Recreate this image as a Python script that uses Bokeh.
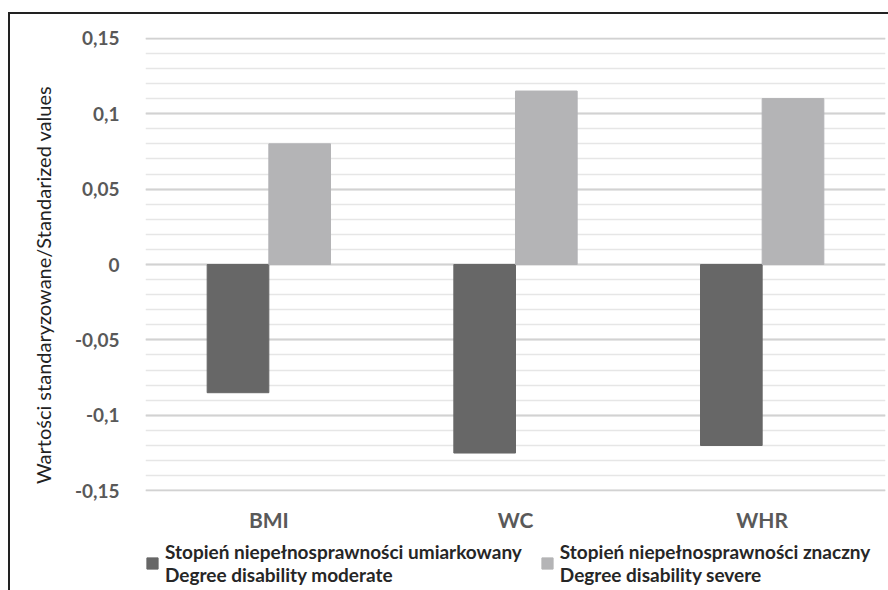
from bokeh.plotting import figure
from bokeh.layouts import column
from bokeh.models import (ColumnDataSource, FactorRange, Range1d, FixedTicker,
                          CustomJSTickFormatter, Legend, LegendItem)
from bokeh.transform import dodge
from bokeh.embed import file_html
from bokeh.resources import INLINE

# Standardized values of body measures by degree of disability
categories = ["BMI", "WC", "WHR"]
moderate = [-0.085, -0.125, -0.12]
severe = [0.08, 0.115, 0.11]
series_labels = [
    "Stopień niepełnosprawności umiarkowany\nDegree disability moderate",
    "Stopień niepełnosprawności znaczny\nDegree disability severe",
]
y_title = "Wartości standaryzowane/Standarized values"
y_ticks = [-0.15, -0.1, -0.05, 0, 0.05, 0.1, 0.15]
y_minor_ticks = [round(-0.15 + 0.01 * i, 2) for i in range(31)]

DARK = "#676767"
LIGHT = "#b4b4b6"
FONT = "Lato"
W = 878

source = ColumnDataSource(dict(cat=categories, moderate=moderate, severe=severe))


def add_bars(fig):
    r_mod = fig.vbar(x=dodge("cat", -0.125, range=fig.x_range), top="moderate",
                     width=0.25, source=source, fill_color=DARK, line_color=DARK)
    r_sev = fig.vbar(x=dodge("cat", 0.125, range=fig.x_range), top="severe",
                     width=0.25, source=source, fill_color=LIGHT, line_color=LIGHT)
    return r_mod, r_sev


# ---- main chart ----
p = figure(
    x_range=FactorRange(*categories, range_padding=0),
    y_range=Range1d(-0.1505, 0.1505),
    width=W, height=526,
    output_backend="svg", toolbar_location=None,
    min_border_left=135, min_border_right=3,
    min_border_top=23, min_border_bottom=49,
)
p.outline_line_color = None
p.background_fill_color = "white"
p.border_fill_color = "white"
add_bars(p)

# y axis: comma decimal labels, no line or ticks
p.yaxis.ticker = FixedTicker(ticks=y_ticks, minor_ticks=y_minor_ticks)
p.yaxis.formatter = CustomJSTickFormatter(code="""
    let s = tick.toFixed(2).replace(/0+$/, '').replace(/\\.$/, '');
    if (s === '-0') s = '0';
    return s.replace('.', ',');
""")
p.yaxis.axis_line_color = None
p.yaxis.major_tick_line_color = None
p.yaxis.minor_tick_line_color = None
p.yaxis.major_label_standoff = 20
p.yaxis.major_label_text_font = FONT
p.yaxis.major_label_text_font_style = "bold"
p.yaxis.major_label_text_font_size = "19px"
p.yaxis.major_label_text_color = "#595959"
p.yaxis.axis_label = y_title + "\u00a0" * 8
p.yaxis.axis_label_standoff = 17
p.yaxis.axis_label_text_font = FONT
p.yaxis.axis_label_text_font_style = "normal"
p.yaxis.axis_label_text_font_size = "20px"
p.yaxis.axis_label_text_color = "#222222"

# x axis: category names only
p.xaxis.axis_line_color = None
p.xaxis.major_tick_line_color = None
p.xaxis.minor_tick_line_color = None
p.xaxis.major_label_standoff = 9
p.xaxis.major_label_text_font = FONT
p.xaxis.major_label_text_font_style = "bold"
p.xaxis.major_label_text_font_size = "21px"
p.xaxis.major_label_text_color = "#595959"

# grid: strong lines every 0.05, faint lines every 0.01
p.xgrid.grid_line_color = None
p.ygrid.grid_line_color = "#d2d2d2"
p.ygrid.grid_line_width = 2
p.ygrid.minor_grid_line_color = "#e6e6e6"
p.ygrid.minor_grid_line_width = 1.5

# ---- legend strip under the chart (bars here fall outside its y range) ----
leg = figure(
    x_range=FactorRange(*categories, range_padding=0),
    y_range=Range1d(1, 2),
    width=W, height=50,
    output_backend="svg", toolbar_location=None,
    x_axis_type=None, y_axis_type=None,
    min_border=0,
)
leg.outline_line_color = None
leg.grid.grid_line_color = None
leg_mod, leg_sev = add_bars(leg)

legend = Legend(
    items=[LegendItem(label=series_labels[0], renderers=[leg_mod]),
           LegendItem(label=series_labels[1], renderers=[leg_sev])],
    orientation="horizontal", location=(0, 4),
    glyph_width=14, glyph_height=14, label_standoff=6, spacing=18,
    padding=0, margin=0, border_line_color=None, background_fill_alpha=0,
    label_text_font=FONT, label_text_font_style="bold",
    label_text_font_size="19px", label_text_color="#262626",
    label_text_line_height=0.65,
)
leg.add_layout(legend, "center")

layout = column(p, leg, spacing=0, margin=(12, 0, 0, 8),
                styles={"border-top": "2px solid #222222",
                        "border-left": "2px solid #222222"})

open("out.html", "w").write(file_html(layout, INLINE))
